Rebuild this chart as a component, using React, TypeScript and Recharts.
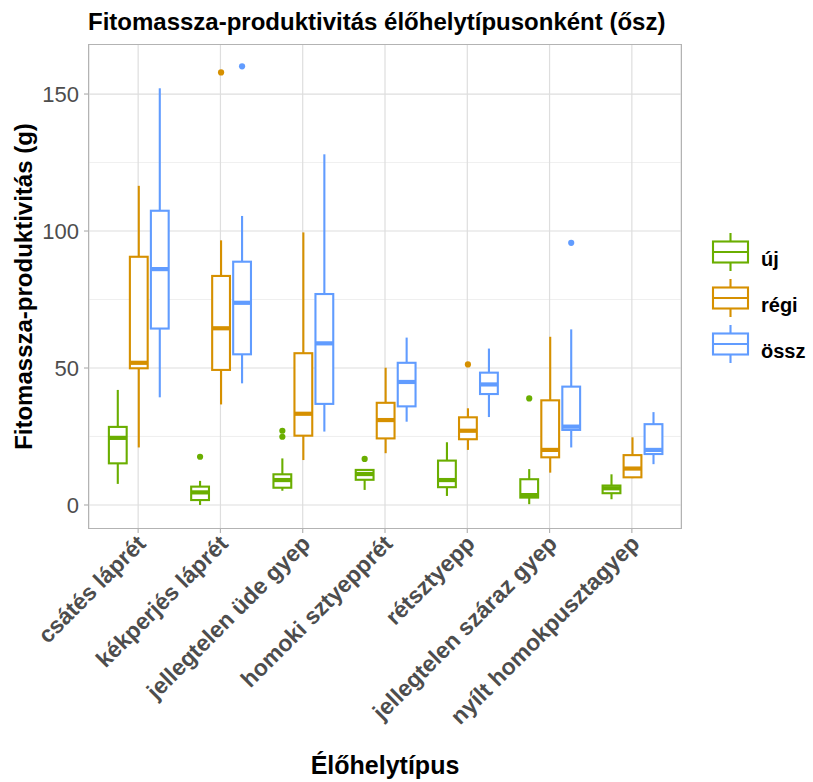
import { ComposedChart, Bar, XAxis, YAxis, CartesianGrid } from "recharts";

const FONT = "'Liberation Sans', Arial, sans-serif";

const categories = [
  "csátés láprét",
  "kékperjés láprét",
  "jellegtelen üde gyep",
  "homoki sztyepprét",
  "rétsztyepp",
  "jellegtelen száraz gyep",
  "nyílt homokpusztagyep",
];

// [alsó bajusz, Q1, medián, Q3, felső bajusz]
const ujBox = [
  [7.7, 15.2, 24.5, 28.5, 42.0],
  [0.0, 1.8, 4.6, 6.7, 8.8],
  [5.2, 6.3, 9.1, 11.2, 17.0],
  [5.5, 9.2, 11.3, 12.8, 13.1],
  [3.3, 6.5, 9.1, 16.2, 22.9],
  [0.3, 2.7, 3.6, 9.4, 13.1],
  [2.1, 4.3, 6.1, 7.1, 11.2],
];
const ujOut = [[], [17.6], [24.9, 27.1], [16.8], [], [38.9], []];

const regiBox = [
  [21.0, 49.9, 51.9, 90.6, 116.5],
  [36.7, 49.3, 64.5, 83.6, 96.6],
  [16.4, 25.3, 33.3, 55.4, 99.5],
  [18.9, 24.3, 31.0, 37.3, 50.1],
  [20.1, 24.0, 27.1, 32.0, 35.3],
  [11.8, 17.4, 20.1, 38.2, 61.4],
  [9.8, 10.1, 13.3, 18.2, 24.7],
];
const regiOut = [[], [157.9], [], [], [51.3], [], []];

const osszBox = [
  [39.3, 64.4, 86.1, 107.4, 152.1],
  [44.4, 55.0, 73.8, 88.8, 105.5],
  [26.8, 36.9, 59.0, 77.0, 128.0],
  [30.4, 36.0, 44.9, 51.9, 61.1],
  [32.1, 40.5, 44.0, 48.3, 57.1],
  [21.0, 27.4, 28.6, 43.2, 64.1],
  [14.9, 18.6, 20.1, 29.5, 33.9],
];
const osszOut = [[], [160.1], [], [], [], [95.7], []];

const yTicks = [0, 50, 100, 150];
const yMinor = [25, 75, 125];

const series = [
  { key: "uj", name: "új", color: "#6AAE00", box: ujBox, out: ujOut },
  { key: "regi", name: "régi", color: "#D69000", box: regiBox, out: regiOut },
  { key: "ossz", name: "össz", color: "#619CFF", box: osszBox, out: osszOut },
];

const span = (box: number[], out: number[]) => [
  Math.min(box[0], ...out),
  Math.max(box[4], ...out),
];

const data = categories.map((cat, i) => {
  const row: any = { cat, idx: i };
  series.forEach((s) => {
    row[s.key] = span(s.box[i], s.out[i]);
  });
  return row;
});

const LW = 2.1;

function makeBoxShape(s: (typeof series)[number]) {
  return (props: any) => {
    const { x, y, width, height, payload } = props;
    const i = payload.idx;
    const [lo, hi] = payload[s.key];
    const top = Math.min(y, y + height);
    const h = Math.abs(height);
    const px = (v: number) => top + ((hi - v) / (hi - lo)) * h;
    const [wl, q1, med, q3, wh] = s.box[i];
    const cx = x + width / 2;
    const bx = x + 1.6;
    const bw = width - 3.2;
    return (
      <g>
        <line x1={cx} x2={cx} y1={px(wh)} y2={px(q3)} stroke={s.color} strokeWidth={LW} />
        <line x1={cx} x2={cx} y1={px(q1)} y2={px(wl)} stroke={s.color} strokeWidth={LW} />
        <rect x={bx} y={px(q3)} width={bw} height={px(q1) - px(q3)} fill="#fff" stroke={s.color} strokeWidth={LW} />
        <line x1={bx} x2={bx + bw} y1={px(med)} y2={px(med)} stroke={s.color} strokeWidth={LW * 2} />
        {s.out[i].map((o, k) => (
          <circle key={k} cx={cx} cy={px(o)} r={3.1} fill={s.color} />
        ))}
      </g>
    );
  };
}

const XTick = ({ x, y, payload }: any) => (
  <text
    x={x + 9}
    y={y + 12}
    transform={`rotate(-45 ${x + 9} ${y + 12})`}
    textAnchor="end"
    fontSize={23}
    fontWeight="bold"
    fill="#4D4D4D"
    fontFamily={FONT}
  >
    {payload.value}
  </text>
);

function LegendBox() {
  return (
    <svg width={113} height={150} style={{ position: "absolute", left: 700, top: 220 }}>
      {series.map((s, k) => {
        const cy = 32 + k * 46;
        return (
          <g key={s.key}>
            <line x1={30.5} x2={30.5} y1={cy - 19} y2={cy + 19} stroke={s.color} strokeWidth={LW} />
            <rect x={13} y={cy - 10.5} width={35} height={21} fill="#fff" stroke={s.color} strokeWidth={LW} />
            <line x1={13} x2={48} y1={cy} y2={cy} stroke={s.color} strokeWidth={LW} />
            <text x={61} y={cy + 14} fontSize={20} fontWeight="bold" fill="#000" fontFamily={FONT}>
              {s.name}
            </text>
          </g>
        );
      })}
    </svg>
  );
}

export default function App() {
  return (
    <div style={{ position: "absolute", left: 0, top: 0, width: 813, height: 782, background: "#fff", fontFamily: FONT }}>
      <div
        style={{
          position: "absolute",
          left: 88,
          top: 8,
          fontSize: 24,
          lineHeight: "28px",
          fontWeight: "bold",
          whiteSpace: "nowrap",
          color: "#000",
        }}
      >
        Fitomassza-produktivitás élőhelytípusonként (ősz)
      </div>
      <ComposedChart
        width={813}
        height={782}
        data={data}
        margin={{ top: 45, right: 132, left: 0, bottom: 0 }}
        barCategoryGap="12.5%"
        barGap={0}
      >
        <CartesianGrid horizontalValues={yMinor} vertical={false} stroke="#EBEBEB" strokeWidth={0.8} />
        <CartesianGrid horizontalValues={yTicks} stroke="#DEDEDE" strokeWidth={1.2} />
        <XAxis
          dataKey="cat"
          type="category"
          height={254}
          padding={{ left: 8, right: 8 }}
          axisLine={false}
          tickLine={{ stroke: "#B3B3B3", strokeWidth: 1.2 }}
          tickSize={5}
          tickMargin={0}
          interval={0}
          tick={<XTick />}
          label={({ viewBox }: any) => (
            <text
              x={viewBox.x + viewBox.width / 2}
              y={774}
              textAnchor="middle"
              fontSize={25}
              fontWeight="bold"
              fill="#000"
              fontFamily={FONT}
            >
              Élőhelytípus
            </text>
          )}
        />
        <YAxis
          type="number"
          domain={[-8.4, 167.9]}
          allowDataOverflow
          ticks={yTicks}
          width={89}
          axisLine={false}
          tickLine={{ stroke: "#B3B3B3", strokeWidth: 1.2 }}
          tickSize={5}
          tickMargin={5}
          tick={{ fontSize: 22, fill: "#4D4D4D", fontFamily: FONT }}
          label={({ viewBox }: any) => (
            <text
              x={32}
              y={viewBox.y + viewBox.height / 2}
              transform={`rotate(-90 32 ${viewBox.y + viewBox.height / 2})`}
              textAnchor="middle"
              fontSize={24}
              fontWeight="bold"
              fill="#000"
              fontFamily={FONT}
            >
              Fitomassza-produktivitás (g)
            </text>
          )}
        />
        {series.map((s) => (
          <Bar
            key={s.key}
            dataKey={s.key}
            name={s.name}
            fill={s.color}
            isAnimationActive={false}
            shape={makeBoxShape(s)}
          />
        ))}
      </ComposedChart>
      <div
        style={{
          position: "absolute",
          left: 88.4,
          top: 44.4,
          width: 592,
          height: 483,
          border: "1.2px solid #B3B3B3",
          pointerEvents: "none",
        }}
      />
      <LegendBox />
    </div>
  );
}
